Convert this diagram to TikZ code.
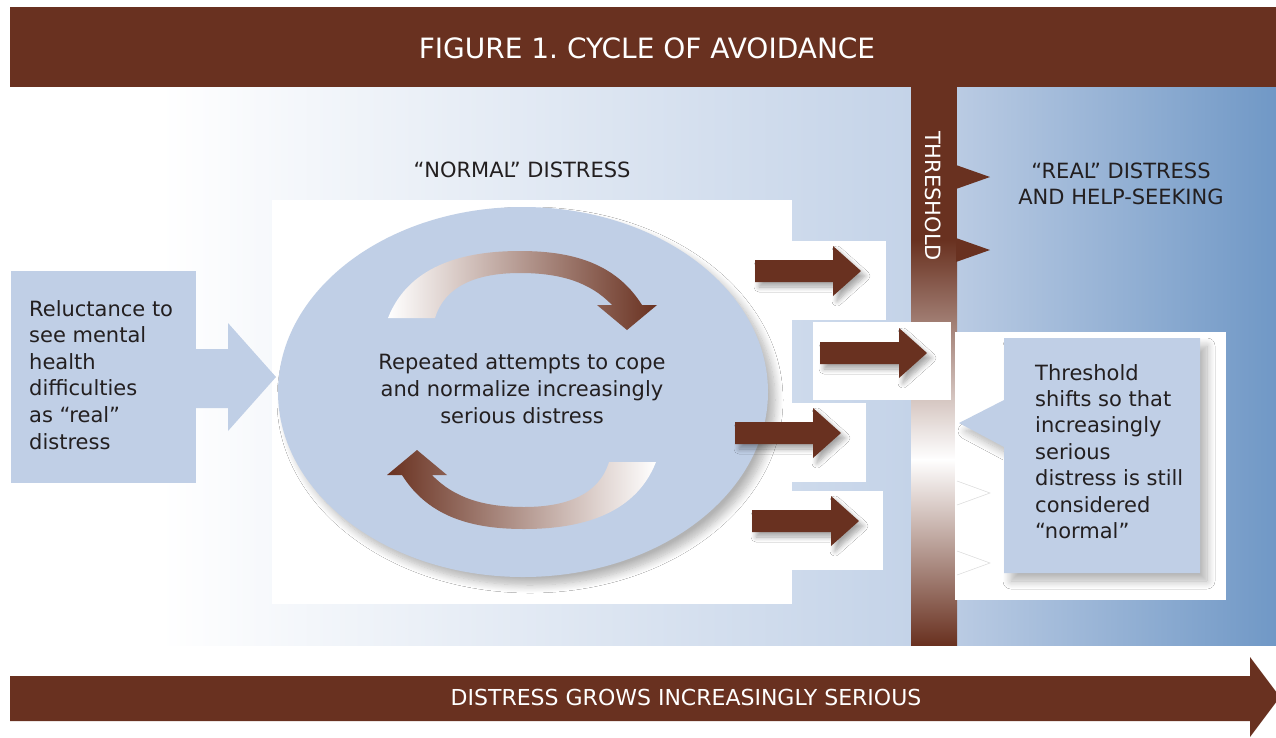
\documentclass[tikz,border=0pt]{standalone}
\usepackage{fontspec}
\setmainfont{DejaVu Sans}
\usetikzlibrary{shadows.blur}
\frenchspacing
\definecolor{brn}{HTML}{693120}
\definecolor{lblue}{HTML}{C0CFE6}
\definecolor{bgblue}{HTML}{C4D3E8}
\definecolor{rblueA}{HTML}{BACBE3}
\definecolor{rblueB}{HTML}{7098C6}
\definecolor{txt}{HTML}{231F20}
\newcommand\brarrow[3]{%
  \fill[brn, arrowshadow] (#1,#3-11) -- (#2,#3-11) -- (#2,#3-25) -- ({#2+28},#3) -- (#2,#3+25) -- (#2,#3+11) -- (#1,#3+11) -- cycle;}
\begin{document}
\begin{tikzpicture}[x=1pt,y=-1pt,
  bodytext/.style={text=txt, inner sep=0pt, font=\fontsize{21}{26.6}\selectfont},
  whitetext/.style={text=white, inner sep=0pt},
  arrowshadow/.style={blur shadow={shadow xshift=4pt, shadow yshift=-5pt, shadow blur radius=5pt, shadow blur steps=8, shadow opacity=35}},
  softshadow/.style={blur shadow={shadow xshift=7pt, shadow yshift=-8pt, shadow blur radius=8pt, shadow blur steps=10, shadow opacity=30}}]
\useasboundingbox (0,0) rectangle (1276,737);
\fill[white] (0,0) rectangle (1276,737);
% backgrounds
\fill[white] (10,87) rectangle (911,645);
\shade[left color=white, right color=bgblue] (160,87) rectangle (911,645);
\shade[left color=rblueA, right color=rblueB] (957,87) rectangle (1276,645);
% header
\fill[brn] (10,7) rectangle (1276,87);
\node[whitetext, font=\fontsize{28}{34}\selectfont] (title) at (647,48) {FIGURE 1. CYCLE OF AVOIDANCE};
% threshold bar
\fill[brn] (911,87) rectangle (957,241);
\shade[top color=brn, bottom color=white] (911,240) rectangle (957,460);
\shade[top color=white, bottom color=brn] (911,459) rectangle (957,645);
\fill[brn] (956,165) -- (990,177) -- (956,189) -- cycle;
\fill[brn] (956,238) -- (990,250) -- (956,262) -- cycle;
\node[whitetext, rotate=-90, font=\fontsize{21}{26}\selectfont] (thr) at (933,196) {THRESHOLD};
% headings
\node[bodytext] (normal) at (522,170) {“NORMAL” DISTRESS};
\node[bodytext, align=center] (real) at (1121,184) {“REAL” DISTRESS\\AND HELP-SEEKING};
% white panel and boxes
\fill[white] (272,200) rectangle (792,604);
\fill[white] (792,241) rectangle (886,320);
\fill[white] (813,322) rectangle (951,400);
\fill[white] (728,403) rectangle (866,482);
\fill[white] (792,491) rectangle (883,570);
% ellipse
\fill[lblue, softshadow] (523,392) ellipse [x radius=245, y radius=185];
\node[bodytext, align=center, font=\fontsize{21}{27}\selectfont] (cycle) at (522,389) {Repeated attempts to cope\\and normalize increasingly\\serious distress};
% curved arrows
\shade[left color=white, middle color=brn!62!white, right color=brn]
  (388,318) .. controls (410,262) and (470,251) .. (520,251)
  .. controls (570,251) and (615,262) .. (642,305)
  -- (657,305) -- (627,330) -- (597,305) -- (612,305)
  .. controls (590,282) and (560,273) .. (520,273)
  .. controls (478,273) and (445,285) .. (435,318) -- cycle;
\shade[left color=brn, middle color=brn!62!white, right color=white]
  (656,462) .. controls (634,518) and (574,529) .. (524,529)
  .. controls (474,529) and (429,518) .. (402,475)
  -- (387,475) -- (417,450) -- (447,475) -- (432,475)
  .. controls (454,498) and (484,507) .. (524,507)
  .. controls (566,507) and (599,495) .. (609,462) -- cycle;
% straight arrows
\brarrow{755}{833}{271}
\brarrow{820}{899}{353}
\brarrow{735}{813}{433}
\brarrow{752}{831}{521}
% left box
\fill[lblue] (11,271) rectangle (196,483);
\fill[lblue] (195,349) -- (228,349) -- (228,323) -- (276,377) -- (228,431) -- (228,408) -- (195,408) -- cycle;
\node[bodytext, anchor=north west, align=left] (reluct) at (29,300) {Reluctance to\\see mental\\health\\difficulties\\as “real”\\distress};
% callout
\fill[white] (955,332) rectangle (1226,600);
\draw[black!15, line width=0.5pt] (957,481) -- (990,493) -- (957,505);
\draw[black!15, line width=0.5pt] (957,551) -- (990,563) -- (957,575);
\fill[lblue, softshadow] (1004,338) -- (1200,338) -- (1200,573) -- (1004,573) -- (1004,447) -- (959,423) -- (1004,400) -- cycle;
\node[bodytext, anchor=north west, align=left, font=\fontsize{21}{26.4}\selectfont] (shift) at (1035,364) {Threshold\\shifts so that\\increasingly\\serious\\distress is still\\considered\\“normal”};
% bottom arrow
\fill[brn] (10,676) -- (1250,676) -- (1250,657) -- (1280,697) -- (1250,737) -- (1250,721) -- (10,721) -- cycle;
\node[whitetext, font=\fontsize{22}{26}\selectfont] (grows) at (686,697) {DISTRESS GROWS INCREASINGLY SERIOUS};
\end{tikzpicture}
\end{document}
